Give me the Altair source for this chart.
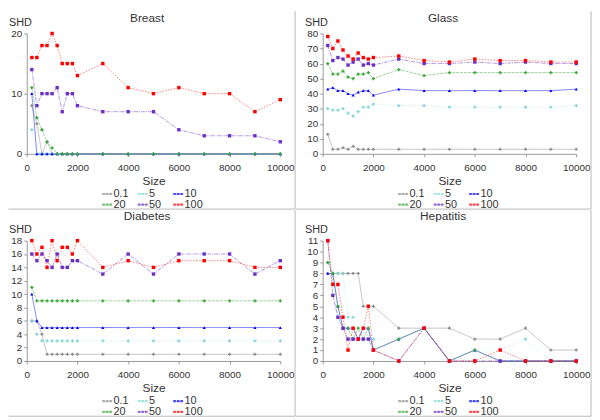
import altair as alt
import pandas as pd

FONT = "Liberation Sans Narrow, Liberation Sans, Arial, sans-serif"

sizes = [200, 400, 600, 800, 1000, 1200, 1400, 1600, 1800, 2000,
         3000, 4000, 5000, 6000, 7000, 8000, 9000, 10000]
series_labels = ["0.1", "5", "10", "20", "50", "100"]
x_ticks = [0, 2000, 4000, 6000, 8000, 10000]

# Breast
breast_0_1 = [8, 5, 0, 2, 0, 0, 0, 0, 0, 0, 0, 0, 0, 0, 0, 0, 0, 0]
breast_5 = [4, 0, 0, 0, 0, 0, 0, 0, 0, 0, 0, 0, 0, 0, 0, 0, 0, 0]
breast_10 = [10, 0, 0, 0, 0, 0, 0, 0, 0, 0, 0, 0, 0, 0, 0, 0, 0, 0]
breast_20 = [11, 6, 4, 2, 1, 0, 0, 0, 0, 0, 0, 0, 0, 0, 0, 0, 0, 0]
breast_50 = [14, 8, 10, 10, 10, 11, 7, 10, 10, 8, 7, 7, 7, 4, 3, 3, 3, 2]
breast_100 = [16, 16, 18, 18, 20, 18, 15, 15, 15, 13, 15, 11, 10, 11, 10, 10, 7, 9]

# Glass
glass_0_1 = [13, 3, 3, 4, 3, 5, 3, 3, 3, 3, 3, 3, 3, 3, 3, 3, 3, 3]
glass_5 = [30, 29, 29, 30, 27, 25, 28, 31, 31, 33, 32, 32, 31, 31, 31, 31, 31, 32]
glass_10 = [43, 44, 42, 42, 40, 39, 41, 42, 42, 39, 43, 42, 42, 42, 42, 42, 42, 43]
glass_20 = [60, 53, 53, 55, 51, 50, 53, 53, 54, 50, 56, 52, 54, 54, 54, 54, 54, 54]
glass_50 = [72, 62, 64, 63, 59, 61, 63, 59, 60, 59, 63, 60, 60, 61, 60, 61, 60, 60]
glass_100 = [78, 70, 75, 69, 65, 63, 67, 64, 63, 64, 65, 62, 61, 63, 62, 62, 61, 61]

# Diabetes
diabetes_0_1 = [6, 6, 4, 1, 1, 1, 1, 1, 1, 1, 1, 1, 1, 1, 1, 1, 1, 1]
diabetes_5 = [6, 4, 3, 3, 3, 3, 3, 3, 3, 3, 3, 3, 3, 3, 3, 3, 3, 3]
diabetes_10 = [10, 6, 5, 5, 5, 5, 5, 5, 5, 5, 5, 5, 5, 5, 5, 5, 5, 5]
diabetes_20 = [11, 9, 9, 9, 9, 9, 9, 9, 9, 9, 9, 9, 9, 9, 9, 9, 9, 9]
diabetes_50 = [16, 15, 16, 15, 14, 16, 14, 14, 15, 15, 13, 16, 13, 16, 16, 16, 13, 15]
diabetes_100 = [18, 16, 17, 14, 18, 15, 17, 17, 16, 18, 14, 15, 14, 15, 15, 15, 14, 14]

# Hepatitis
hepatitis_0_1 = [8, 8, 8, 8, 8, 8, 8, 5, 5, 5, 3, 3, 3, 2, 2, 3, 1, 1]
hepatitis_5 = [9, 8, 8, 8, 4, 4, 2, 3, 2, 2, 2, 3, 0, 1, 1, 2, 0, 0]
hepatitis_10 = [8, 8, 5, 3, 3, 3, 2, 3, 3, 1, 2, 3, 0, 1, 0, 0, 0, 0]
hepatitis_20 = [9, 8, 5, 3, 3, 2, 3, 2, 3, 1, 2, 3, 0, 1, 0, 0, 0, 0]
hepatitis_50 = [11, 6, 4, 3, 2, 2, 2, 2, 2, 1, 0, 3, 0, 0, 0, 0, 0, 0]
hepatitis_100 = [11, 7, 7, 4, 1, 3, 2, 3, 5, 1, 0, 3, 0, 0, 1, 0, 0, 0]

point_colors = ["#8a8a8a", "#7fd6d6", "#0000ff", "#3aa83a", "#6a2fc4", "#ff0000"]
shapes = ["cross", "cross", "triangle-up", "cross", "square", "square"]
point_sizes = [10, 12, 24, 12, 6, 6]
dashes = [[1, 0], [1, 2], [1, 0], [3, 1], [4, 1, 1, 1], [1.5, 1.5]]

LEGEND_PATH = ("M-1,-0.22h0.55v0.44h-0.55z M-0.27,-0.22h0.55v0.44h-0.55z "
               "M0.45,-0.22h0.55v0.44h-0.55z M-1,-0.05h2v0.1h-2z")


def make_df(lists):
    rows = []
    for lab, vals in zip(series_labels, lists):
        for s, v in zip(sizes, vals):
            rows.append({"size": s, "shd": v, "series": lab})
    return pd.DataFrame(rows)


def make_legend():
    return alt.Legend(title=None, orient="none", legendX=76, legendY=157,
                      direction="horizontal", columns=3, symbolType=LEGEND_PATH,
                      symbolSize=100, symbolStrokeWidth=0, labelFontSize=11,
                      labelFont=FONT, labelColor="#333333", columnPadding=5,
                      rowPadding=-2, gridAlign="all", symbolOffset=0, labelOffset=1)


def panel(name, lists, ymax, yvals, left, top):
    df = make_df(lists)
    base = alt.Chart(df)
    x = alt.X("size:Q", scale=alt.Scale(domain=[0, 10000], nice=False),
              axis=alt.Axis(values=x_ticks, title="Size", labelPadding=6,
                            titlePadding=3, format="d", labelFlush=False))
    y = alt.Y("shd:Q", scale=alt.Scale(domain=[0, ymax], nice=False),
              axis=alt.Axis(values=yvals, title=None, labelPadding=2, labelFlush=False))
    def dscale(rng):
        return alt.Scale(domain=series_labels, range=rng)
    lines = base.mark_line(strokeWidth=1, strokeOpacity=0.5).encode(
        x=x, y=y,
        stroke=alt.Stroke("series:N", scale=dscale(point_colors), legend=None),
        strokeDash=alt.StrokeDash("series:N", scale=dscale(dashes), legend=None),
    )
    points = base.mark_point(filled=True, opacity=1).encode(
        x=x, y=y,
        fill=alt.Fill("series:N", scale=dscale(point_colors), legend=None),
        shape=alt.Shape("series:N", scale=dscale(shapes), legend=None),
        size=alt.Size("series:N", scale=dscale(point_sizes), legend=None),
    )
    legend_layer = base.mark_point(filled=True, size=0).encode(
        x=x, y=y,
        color=alt.Color("series:N", sort=series_labels,
                        scale=alt.Scale(range=point_colors), legend=make_legend()),
    )
    one = alt.Chart(pd.DataFrame({"k": [0]}))
    vrule = one.mark_rule(color="#b8b8b8", strokeWidth=1).encode(
        x=alt.value(272), y=alt.value(top), y2=alt.value(178))
    hrule = one.mark_rule(color="#b8b8b8", strokeWidth=1).encode(
        x=alt.value(left), x2=alt.value(272), y=alt.value(178))
    title = one.mark_text(text=name, font=FONT, fontSize=12, color="#333333",
                          align="center", baseline="top").encode(
        x=alt.value(122), y=alt.value(top + 1.5))
    ytitle = one.mark_text(text="SHD", font=FONT, fontSize=11, color="#333333",
                           align="left", baseline="middle").encode(
        x=alt.value(-18), y=alt.value(-11))
    return alt.layer(vrule, hrule, title, ytitle, lines, points, legend_layer).resolve_scale(
        color="independent", fill="independent", stroke="independent"
    ).properties(width=257, height=122)


p1 = panel("Breast", [breast_0_1, breast_5, breast_10, breast_20, breast_50, breast_100],
           20, [0, 10, 20], -18.5, -22.5)
p2 = panel("Glass", [glass_0_1, glass_5, glass_10, glass_20, glass_50, glass_100],
           80, list(range(0, 81, 10)), -27, -22.5)
p3 = panel("Diabetes", [diabetes_0_1, diabetes_5, diabetes_10, diabetes_20, diabetes_50, diabetes_100],
           18, list(range(0, 19, 2)), -18.5, -31)
p4 = panel("Hepatitis", [hepatitis_0_1, hepatitis_5, hepatitis_10, hepatitis_20, hepatitis_50, hepatitis_100],
           11, list(range(0, 12)), -27, -31)

chart = alt.concat(p1, p2, p3, p4, columns=2, spacing={"row": 88, "column": 43},
                   bounds="flush").resolve_scale(
    color="independent", fill="independent", stroke="independent", shape="independent",
    size="independent", strokeDash="independent", x="independent", y="independent"
).resolve_legend(color="independent").properties(padding=0).configure_view(
    stroke=None
).configure_axis(
    labelFont=FONT, titleFont=FONT, labelFontSize=10, titleFontSize=12,
    labelColor="#333333", titleColor="#333333", domainColor="#999999",
    tickColor="#999999", tickSize=3, grid=False, titleFontWeight="normal"
)

chart.save("out.html", embed_options={"renderer": "svg", "actions": False})
